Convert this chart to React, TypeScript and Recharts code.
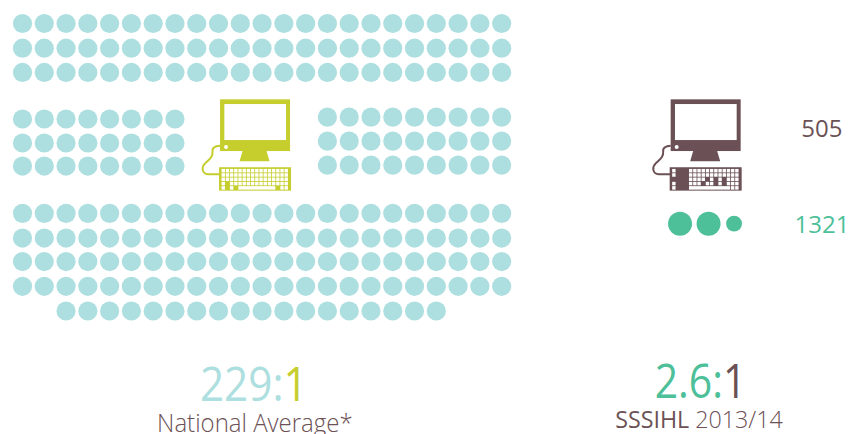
import { ScatterChart, Scatter, XAxis, YAxis } from 'recharts';

// grid positions of the dots, one unit = one dot pitch
const fullColumns = [0, 1, 2, 3, 4, 5, 6, 7, 8, 9, 10, 11, 12, 13, 14, 15, 16, 17, 18, 19, 20, 21, 22];
const leftColumns = [0, 1, 2, 3, 4, 5, 6, 7];
const rightColumns = [14, 15, 16, 17, 18, 19, 20, 21, 22];
const lastColumns = [2, 3, 4, 5, 6, 7, 8, 9, 10, 11, 12, 13, 14, 15, 16, 17, 18, 19];

const topRows = [0, 1.03, 2.04];
const leftRows = [3.98, 4.98, 5.94];
const rightRows = [3.9, 4.9, 5.9];
const bottomRows = [7.91, 8.94, 9.92, 10.95];
const lastRow = [11.98];

// 1321 students / 505 computers: two whole dots and a part dot
const studentColumns = [30.19, 31.5, 32.67];
const studentShares = [1, 1, 0.66];
const studentRow = 8.34;

const nationalComputer = [{ col: 9.07, row: 3.16 }];
const sssihlComputer = [{ col: 29.76, row: 3.16 }];

const limeKeys = [
  '################',
  '################',
  '################',
  '#.##############',
  '#.#.=========.##',
];
const brownKeys = [
  '#...############',
  '#...############',
  '....####.#.#.###',
  '#...###.##.#.###',
  '#...==========##',
];

const TEAL = '#aedfe0';
const LIME = '#c6ce2e';
const BROWN = '#6b5155';
const GREEN = '#4dbf99';
const FONT = '"Open Sans", "Noto Sans", sans-serif';

const grid = (rows: number[], cols: number[]) =>
  rows.flatMap((row) => cols.map((col) => ({ col, row })));

const dots = [
  ...grid(topRows, fullColumns),
  ...grid(leftRows, leftColumns),
  ...grid(rightRows, rightColumns),
  ...grid(bottomRows, fullColumns),
  ...grid(lastRow, lastColumns),
];

const students = studentColumns.map((col, i) => ({ col, row: studentRow, share: studentShares[i] }));

function Computer({ cx, cy, color, keys }: any) {
  const cell = 4.2;
  const pitch = 4.3;
  return (
    <g transform={`translate(${cx},${cy})`}>
      <rect x={0} y={0} width={70} height={51.7} fill={color} />
      <rect x={4.3} y={4.7} width={61.7} height={36} fill="#fff" />
      <circle cx={6} cy={47.7} r={2} fill="#fff" />
      <path d="M22.5 51.7 H46.5 L49.5 62 H19.5 Z" fill={color} />
      <path
        d="M0 46.5 C-5 47 -8 48 -7.5 52 C-7 58 -11 60 -15 64 C-19 68 -18 74.5 -12 75 L0 75"
        fill="none"
        stroke={color}
        strokeWidth={2}
      />
      <rect x={-1} y={67.9} width={72} height={23.4} fill={color} />
      {keys.map((line: string, r: number) => {
        const rects: any[] = [];
        let start = 0;
        while (start < line.length) {
          const ch = line[start];
          if (ch === '.') {
            start += 1;
          } else if (ch === '=') {
            let end = start;
            while (line[end] === '=') end += 1;
            rects.push(
              <rect key={start} x={1.5 + start * cell} y={69.6 + r * pitch} width={(end - start) * cell - 0.8} height={3.5} fill="#fff" />
            );
            start = end;
          } else {
            rects.push(
              <rect key={start} x={1.5 + start * cell} y={69.6 + r * pitch} width={cell - 0.8} height={3.5} fill="#fff" />
            );
            start += 1;
          }
        }
        return <g key={r}>{rects}</g>;
      })}
    </g>
  );
}

function Caption({ cx, cy, parts, size, squeeze = 1, anchor = 'middle' }: any) {
  return (
    <text
      transform={`translate(${cx},${cy}) scale(${squeeze},1)`}
      textAnchor={anchor}
      fontFamily={FONT}
      fontSize={size}
    >
      {parts.map((p: any, i: number) => (
        <tspan key={i} fill={p.fill} fontWeight={p.weight ?? 300}>
          {p.text}
        </tspan>
      ))}
    </text>
  );
}

// text anchors on the same scales as the dots
const point = (col: number, row: number) => [{ col, row }];

export default function App() {
  return (
    <div style={{ position: 'absolute', left: 0, top: 0 }}>
      <ScatterChart width={857} height={434} margin={{ top: 0, right: 0, bottom: 0, left: 0 }}>
        <XAxis type="number" dataKey="col" domain={[-1.033, 38.315]} hide />
        <YAxis type="number" dataKey="row" domain={[-0.979, 17.104]} reversed hide />
        <Scatter
          data={dots}
          isAnimationActive={false}
          shape={(p: any) => <circle cx={p.cx} cy={p.cy} r={9.6} fill={TEAL} />}
        />
        <Scatter
          data={students}
          isAnimationActive={false}
          shape={(p: any) => <circle cx={p.cx} cy={p.cy} r={12 * p.payload.share} fill={GREEN} />}
        />
        <Scatter
          data={nationalComputer}
          isAnimationActive={false}
          shape={(p: any) => <Computer cx={p.cx} cy={p.cy} color={LIME} keys={limeKeys} />}
        />
        <Scatter
          data={sssihlComputer}
          isAnimationActive={false}
          shape={(p: any) => <Computer cx={p.cx} cy={p.cy} color={BROWN} keys={brownKeys} />}
        />
        <Scatter
          data={point(10.62, 15.73)}
          isAnimationActive={false}
          shape={(p: any) => (
            <Caption cx={p.cx} cy={p.cy} size={47} squeeze={0.9} parts={[{ text: '229:', fill: TEAL, weight: 400 }, { text: '1', fill: LIME, weight: 400 }]} />
          )}
        />
        <Scatter
          data={point(10.67, 17.04)}
          isAnimationActive={false}
          shape={(p: any) => (
            <Caption cx={p.cx} cy={p.cy} size={25} squeeze={0.96} parts={[{ text: 'National Average*', fill: BROWN }]} />
          )}
        />
        <Scatter
          data={point(31.13, 15.62)}
          isAnimationActive={false}
          shape={(p: any) => (
            <Caption cx={p.cx} cy={p.cy} size={47} squeeze={0.87} parts={[{ text: '2.6:', fill: GREEN, weight: 400 }, { text: '1', fill: BROWN, weight: 400 }]} />
          )}
        />
        <Scatter
          data={point(31.06, 16.87)}
          isAnimationActive={false}
          shape={(p: any) => (
            <Caption
              cx={p.cx}
              cy={p.cy}
              size={24}
              squeeze={0.97}
              parts={[{ text: 'SSSIHL', fill: BROWN, weight: 400 }, { text: ' 2013/14', fill: BROWN }]}
            />
          )}
        />
        <Scatter
          data={point(37.65, 4.72)}
          isAnimationActive={false}
          shape={(p: any) => <Caption cx={p.cx} cy={p.cy} size={24} squeeze={1} anchor="end" parts={[{ text: '505', fill: BROWN, weight: 400 }]} />}
        />
        <Scatter
          data={point(37.97, 8.72)}
          isAnimationActive={false}
          shape={(p: any) => <Caption cx={p.cx} cy={p.cy} size={24} squeeze={1} anchor="end" parts={[{ text: '1321', fill: GREEN, weight: 400 }]} />}
        />
      </ScatterChart>
    </div>
  );
}
